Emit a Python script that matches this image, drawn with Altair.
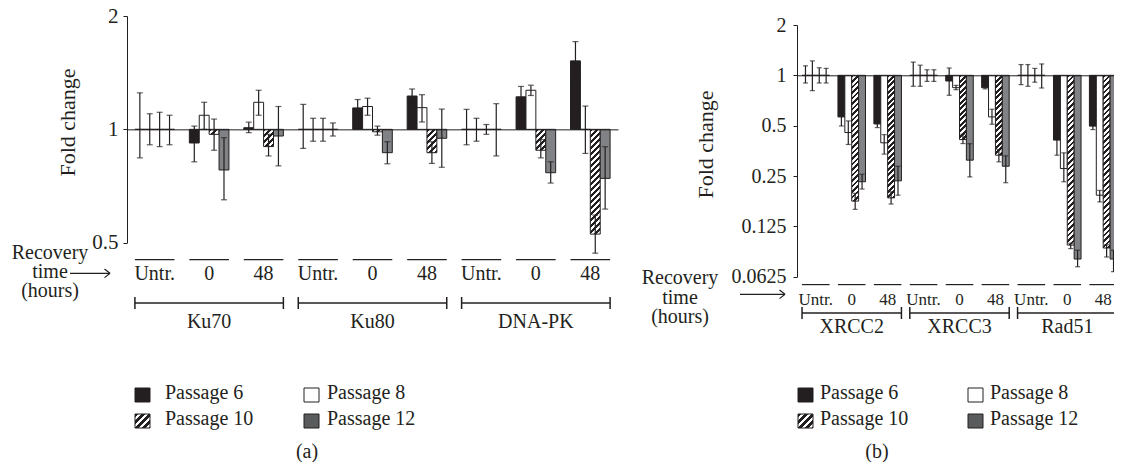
import math
import altair as alt

# ---------------- data ----------------
passages = ["Passage 6", "Passage 8", "Passage 10", "Passage 12"]
times = ["Untr.", "0", "48"]
genes_a = ["Ku70", "Ku80", "DNA-PK"]
genes_b = ["XRCC2", "XRCC3", "Rad51"]

# rows: gene x recovery time (Untr., 0, 48); columns: passage 6, 8, 10, 12
a_mean = [
    [1.00, 1.00, 1.00, 1.00],
    [0.92, 1.09, 0.97, 0.78],
    [1.01, 1.18, 0.90, 0.96],
    [1.00, 1.00, 1.00, 1.00],
    [1.14, 1.15, 0.985, 0.867],
    [1.226, 1.142, 0.867, 0.947],
    [1.00, 1.00, 1.00, 1.00],
    [1.22, 1.27, 0.88, 0.767],
    [1.52, 1.00, 0.527, 0.741],
]
a_hi = [
    [1.25, 1.10, 1.11, 1.09],
    [1.02, 1.18, 1.065, 0.95],
    [1.045, 1.27, 0.97, 1.15],
    [1.165, 1.07, 1.07, 1.04],
    [1.20, 1.21, 1.02, 0.927],
    [1.28, 1.236, 0.927, 1.132],
    [1.13, 1.07, 1.03, 1.17],
    [1.30, 1.31, 0.94, 0.82],
    [1.71, 1.153, 0.592, 0.899],
]
a_lo = [
    [0.84, 0.91, 0.90, 0.91],
    [0.82, 1.00, 0.88, 0.65],
    [0.98, 1.09, 0.85, 0.80],
    [0.89, 0.93, 0.93, 0.96],
    [1.085, 1.09, 0.965, 0.81],
    [1.168, 1.046, 0.812, 0.793],
    [0.91, 0.93, 0.97, 0.85],
    [1.14, 1.23, 0.84, 0.72],
    [1.35, 0.863, 0.469, 0.614],
]

b_mean = [
    [1.00, 1.00, 1.00, 1.00],
    [0.564, 0.455, 0.177, 0.231],
    [0.512, 0.395, 0.185, 0.234],
    [1.00, 1.00, 1.00, 1.00],
    [0.925, 0.844, 0.413, 0.311],
    [0.844, 0.564, 0.333, 0.286],
    [1.00, 1.00, 1.00, 1.00],
    [0.41, 0.277, 0.0966, 0.0797],
    [0.497, 0.192, 0.0928, 0.0797],
]
b_hi = [
    [1.14, 1.22, 1.11, 1.10],
    [0.61, 0.534, 0.197, 0.256],
    [0.539, 0.442, 0.201, 0.286],
    [1.20, 1.15, 1.08, 1.08],
    [1.106, 0.871, 0.444, 0.39],
    [0.863, 0.627, 0.36, 0.33],
    [1.16, 1.16, 1.10, 1.17],
    [0.48, 0.344, 0.099, 0.09],
    [0.506, 0.205, 0.097, 0.09],
]
b_lo = [
    [0.90, 0.81, 0.90, 0.90],
    [0.498, 0.386, 0.158, 0.209],
    [0.487, 0.338, 0.17, 0.192],
    [0.86, 0.86, 0.92, 0.92],
    [0.76, 0.821, 0.391, 0.247],
    [0.83, 0.51, 0.304, 0.228],
    [0.88, 0.86, 0.91, 0.84],
    [0.333, 0.231, 0.092, 0.0717],
    [0.474, 0.175, 0.082, 0.067],
]

a_ticks = [0.5, 1, 2]
b_ticks = [0.0625, 0.125, 0.25, 0.5, 1, 2]

# ---------------- style ----------------
FONT = "Liberation Serif"
INK = "#231f20"
GREY = "#808285"
GREY_KEY = "#5a5b5d"
W, H = 1106, 454


def bar_width(xr, pi, po, n=9, k=4):
    step = (xr[1] - xr[0]) / (n - pi + 2 * po)
    return step * (1 - pi) / k


def px_per_doubling(yr, yd):
    return (yr[0] - yr[1]) / math.log2(yd[1] / yd[0])


def hatch(w, h, period=6.0):
    """Diagonal '/' stripes as a linear gradient in the bar's bounding box."""
    h = max(h, 1.0)
    d = w * w + h * h
    dt = w * period / d
    tmax = min(1.0, w * (w + h) / d)
    stops = []
    k = 0
    while k * dt < tmax:
        a = min(k * dt, 1.0)
        b = min((k + 0.5) * dt, 1.0)
        c = min((k + 1) * dt, 1.0)
        stops += [
            {"offset": round(a, 6), "color": INK},
            {"offset": round(b, 6), "color": INK},
            {"offset": round(b, 6), "color": "white"},
            {"offset": round(c, 6), "color": "white"},
        ]
        k += 1
    return {"gradient": "linear", "x1": 0, "y1": 0, "x2": 1,
            "y2": round(h / w, 4), "stops": stops}


def panel(genes, mean, hi, lo, cfg):
    xr, pi, po, yr, yd = cfg["xr"], cfg["pi"], cfg["po"], cfg["yr"], cfg["yd"]
    bw = bar_width(xr, pi, po)
    ppd = px_per_doubling(yr, yd)
    recs = []
    for gi, g in enumerate(genes):
        for ti, t in enumerate(times):
            row = gi * 3 + ti
            for k, p in enumerate(passages):
                v = mean[row][k]
                if k == 0:
                    fill = INK
                elif k == 1:
                    fill = "white"
                elif k == 2:
                    fill = hatch(bw, abs(math.log2(v)) * ppd, cfg["period"])
                else:
                    fill = GREY
                recs.append({"grp": f"{g} {t}", "passage": p, "v": v, "base": 1,
                             "hi": hi[row][k], "lo": lo[row][k], "fill": fill})
    groups = [f"{g} {t}" for g in genes for t in times]
    grp_recs = [{"grp": f"{g} {t}", "time": t} for g in genes for t in times]
    gene_recs = [{"gene": g, "first": f"{g} Untr.", "mid": f"{g} 0", "last": f"{g} 48"}
                 for g in genes]

    xs = alt.Scale(domain=groups, range=xr, paddingInner=pi, paddingOuter=po)
    xax = alt.Axis(orient="top", offset=cfg["xoff"], labels=False, ticks=False,
                   grid=False, title=None, domainColor=INK, domainWidth=1, zindex=1)
    ys = alt.Scale(type="log", base=2, domain=yd, range=yr, nice=False)
    yax = alt.Axis(orient="left", offset=cfg["yoff"], values=cfg["ticks"], format="~g",
                   grid=False, tickSize=4, tickColor=INK, tickWidth=1,
                   domainColor=INK, domainWidth=1, labelFont=FONT,
                   labelFontSize=cfg["lfs"], labelColor=INK, labelPadding=cfg["lpad"],
                   labelOverlap=False,
                   title="Fold change", titleFont=FONT, titleFontSize=22,
                   titleFontWeight="normal", titleColor=INK, titleX=cfg["tx"],
                   titleY=cfg["ty"], titleBaseline="middle", titleAngle=270,
                   titleAlign="center")
    xo = alt.XOffset("passage:N", sort=passages,
                     scale=alt.Scale(domain=passages, paddingInner=0, paddingOuter=0))
    data = alt.Data(values=recs)

    def X(field="grp", **kw):
        return alt.X(f"{field}:N", scale=xs, axis=xax, **kw)

    bars = alt.Chart(data).mark_bar(stroke=INK, strokeWidth=1).encode(
        x=X(), xOffset=xo, y=alt.Y("v:Q", scale=ys, axis=yax), y2="base:Q",
        fill=alt.Fill("fill:N", scale=None))
    err = alt.Chart(data).mark_rule(color=INK, strokeWidth=1.2).encode(
        x=X(), xOffset=xo, y=alt.Y("lo:Q", scale=ys, axis=yax), y2="hi:Q")
    cap_hi = alt.Chart(data).mark_tick(color=INK, thickness=1.2, size=cfg["cap"]).encode(
        x=X(), xOffset=xo, y=alt.Y("hi:Q", scale=ys, axis=yax))
    cap_lo = alt.Chart(data).mark_tick(color=INK, thickness=1.2, size=cfg["cap"]).encode(
        x=X(), xOffset=xo, y=alt.Y("lo:Q", scale=ys, axis=yax))

    gdata = alt.Data(values=grp_recs)
    over = alt.Chart(gdata).mark_rect(color=INK).encode(
        x=X(), y=alt.value(cfg["over_y"]), y2=alt.value(cfg["over_y"] + 1.2))
    tl = alt.Chart(gdata).mark_text(font=FONT, fontSize=cfg["tfs"], color=INK,
                                    baseline="alphabetic").encode(
        x=X(), y=alt.value(cfg["tl_y"]), text="time:N")

    ndata = alt.Data(values=gene_recs)
    by = cfg["br_y"]
    br = alt.Chart(ndata).mark_rule(color=INK, strokeWidth=1.5).encode(
        x=X("first", bandPosition=0), x2=alt.X2("last:N", bandPosition=1),
        y=alt.value(by))
    brl = alt.Chart(ndata).mark_rule(color=INK, strokeWidth=1.5).encode(
        x=X("first", bandPosition=0), y=alt.value(by - 6), y2=alt.value(by + 6))
    brr = alt.Chart(ndata).mark_rule(color=INK, strokeWidth=1.5).encode(
        x=X("last", bandPosition=1), y=alt.value(by - 6), y2=alt.value(by + 6))
    gn = alt.Chart(ndata).mark_text(font=FONT, fontSize=20, color=INK,
                                    baseline="alphabetic").encode(
        x=X("mid"), y=alt.value(cfg["gn_y"]), text="gene:N")

    return alt.layer(bars, err, cap_hi, cap_lo, over, tl, br, brl, brr, gn)


cfg_a = dict(xr=[119, 610], pi=0.273, po=0.145, yr=[234.7, 8.0], yd=[0.5, 2],
             ticks=a_ticks, xoff=-121.35, yoff=-119, lpad=5, lfs=21, tx=-60, ty=114,
             cap=6, period=6.0, over_y=251, tl_y=272, tfs=20, br_y=295, gn_y=320)
cfg_b = dict(xr=[789, 1114], pi=0.233, po=0.14, yr=[268.7, 17.0], yd=[0.0625, 2],
             ticks=b_ticks, xoff=-67.3, yoff=-789, lpad=7, lfs=20, tx=-92, ty=136,
             cap=5, period=5.5, over_y=276, tl_y=297, tfs=17, br_y=305, gn_y=325)

panel_a = panel(genes_a, a_mean, a_hi, a_lo, cfg_a)
panel_b = panel(genes_b, b_mean, b_hi, b_lo, cfg_b)

one = alt.Data(values=[{}])


def txt(text, x, y, size=20, align="center", baseline="alphabetic", lh=None):
    kw = {"lineHeight": lh} if lh else {}
    return alt.Chart(one).mark_text(text=text, font=FONT, fontSize=size, color=INK,
                                    align=align, baseline=baseline, **kw).encode(
        x=alt.value(x), y=alt.value(y))


def seg(x1, y1, x2, y2):
    return alt.Chart(one).mark_rule(color=INK, strokeWidth=1.2).encode(
        x=alt.value(x1), y=alt.value(y1), x2=alt.value(x2), y2=alt.value(y2))


def box(x0, y0, fill, size=15):
    return alt.Chart(one).mark_rect(fill=fill, stroke=INK, strokeWidth=1).encode(
        x=alt.value(x0), x2=alt.value(x0 + size), y=alt.value(y0),
        y2=alt.value(y0 + size - 1))


decor = []
rec_lines = ["Recovery", "time", "(hours)"]
# panel (a) recovery label + arrow
decor.append(txt(rec_lines, 42, 251, lh=19))
decor += [seg(62, 265.3, 102, 265.3), seg(102, 265.3, 96.5, 261), seg(102, 265.3, 96.5, 269.6)]
# panel (b) recovery label + arrow
decor.append(txt(rec_lines, 672, 276, lh=19.5))
decor += [seg(732, 286.3, 777, 286.3), seg(777, 286.3, 771.5, 282), seg(777, 286.3, 771.5, 290.6)]

key_fills = [INK, "white", hatch(15, 14, 7.0), GREY_KEY]


def legend(x_left, tx_left, x_right, tx_right):
    out = []
    rows = [380, 406]
    pos = [(x_left, tx_left, rows[0]), (x_right, tx_right, rows[0]),
           (x_left, tx_left, rows[1]), (x_right, tx_right, rows[1])]
    for (bx, tx, ry), p, f in zip(pos, passages, key_fills):
        out.append(box(bx, ry, f))
        out.append(txt(p, tx, ry + 5, align="left", baseline="middle"))
    return out


decor += legend(127, 157, 296, 319)
decor += legend(790, 812, 960, 982)
decor.append(txt("(a)", 299, 444, baseline="middle"))
decor.append(txt("(b)", 869, 444, baseline="middle"))

chart = alt.layer(panel_a, panel_b, *decor).resolve_scale(
    x="independent", y="independent", xOffset="independent"
).properties(
    width=W, height=H, padding=0, background="white",
    autosize=alt.AutoSizeParams(type="none"),
).configure_view(stroke="transparent")

chart.save("out.html", embed_options={"renderer": "svg", "actions": False})
